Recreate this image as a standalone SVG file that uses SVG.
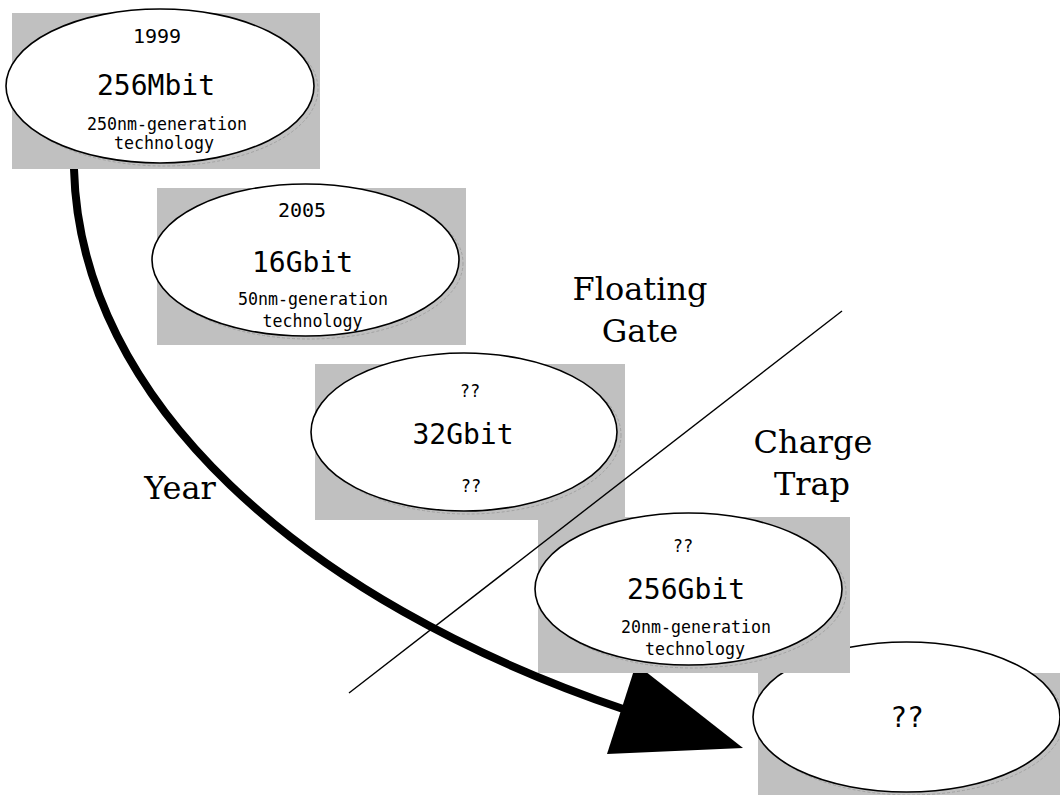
<svg xmlns="http://www.w3.org/2000/svg" width="1060" height="795" viewBox="0 0 1060 795">
<style>
.bg{fill:#c0c0c0;stroke:none}
.sh{fill:none;stroke:#9a9a9a;stroke-width:0.8;stroke-dasharray:3 2}
.el{fill:#fff;stroke:#000;stroke-width:1.6}
.t{font-family:"DejaVu Sans Mono",monospace;fill:#000;text-anchor:middle}
.big{font-size:28px}
.yr{font-size:20px}
.sm{font-size:17px}
.lab{font-family:"DejaVu Serif","Liberation Serif",serif;font-size:32px;fill:#000;text-anchor:middle}
</style>
<rect width="1060" height="795" fill="#fff"/>
<g id="connectors">
<path d="M74,169 C80,400 300,600 626,710" fill="none" stroke="#000" stroke-width="8"/>
<polygon points="743,748 607,754 636,664" fill="#000"/>
</g>
<g id="node1">
<rect class="bg" x="12" y="13" width="308" height="156"/>
<ellipse class="sh" cx="164" cy="89" rx="154" ry="77"/>
<ellipse class="el" cx="160" cy="86" rx="154" ry="77"/>
<text class="t yr" x="157" y="43">1999</text>
<text class="t big" x="156" y="95">256Mbit</text>
<text class="t sm" x="167" y="130" textLength="160" lengthAdjust="spacingAndGlyphs">250nm-generation</text>
<text class="t sm" x="164" y="149" textLength="100" lengthAdjust="spacingAndGlyphs">technology</text>
</g>
<g id="node2">
<rect class="bg" x="157" y="188" width="309" height="157"/>
<ellipse class="sh" cx="309.5" cy="263" rx="153.5" ry="76"/>
<ellipse class="el" cx="305.5" cy="260" rx="153.5" ry="76"/>
<text class="t yr" x="302" y="217">2005</text>
<text class="t big" x="302.5" y="272">16Gbit</text>
<text class="t sm" x="313" y="305" textLength="150" lengthAdjust="spacingAndGlyphs">50nm-generation</text>
<text class="t sm" x="312.5" y="327" textLength="100" lengthAdjust="spacingAndGlyphs">technology</text>
</g>
<g id="node3">
<rect class="bg" x="315" y="364" width="310" height="156"/>
<ellipse class="sh" cx="468" cy="435" rx="153" ry="79"/>
<ellipse class="el" cx="464" cy="432" rx="153" ry="79"/>
<text class="t sm" x="470" y="397">??</text>
<text class="t big" x="463" y="444">32Gbit</text>
<text class="t sm" x="471" y="492">??</text>
</g>
<g id="node5">
<rect class="bg" x="758" y="673" width="302" height="122"/>
<ellipse class="sh" cx="910.5" cy="720" rx="153.5" ry="75"/>
<ellipse class="el" cx="906.5" cy="717" rx="153.5" ry="75"/>
<text class="t big" x="907" y="727">??</text>
</g>
<g id="node4">
<rect class="bg" x="538" y="517" width="312" height="156"/>
<ellipse class="sh" cx="692.5" cy="592" rx="153.5" ry="76"/>
<ellipse class="el" cx="688.5" cy="589" rx="153.5" ry="76"/>
<text class="t sm" x="683" y="552">??</text>
<text class="t big" x="686" y="599">256Gbit</text>
<text class="t sm" x="696" y="633" textLength="150" lengthAdjust="spacingAndGlyphs">20nm-generation</text>
<text class="t sm" x="695" y="655" textLength="100" lengthAdjust="spacingAndGlyphs">technology</text>
</g>
<g id="divider">
<line x1="349" y1="693" x2="842" y2="311" stroke="#000" stroke-width="1.4"/>
</g>
<g id="labels">
<text class="lab" x="640" y="300">Floating</text>
<text class="lab" x="640" y="342">Gate</text>
<text class="lab" x="813" y="453">Charge</text>
<text class="lab" x="812" y="495">Trap</text>
<text class="lab" x="180" y="499">Year</text>
</g>
</svg>
